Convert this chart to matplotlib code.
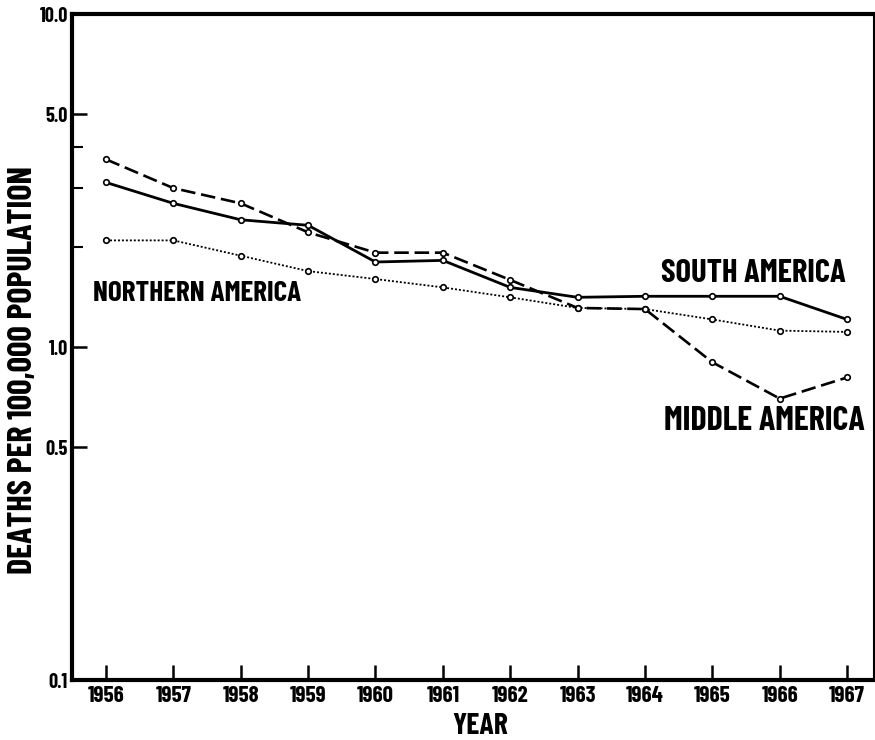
import matplotlib
matplotlib.use("Agg")
import matplotlib.pyplot as plt
from matplotlib.ticker import FixedLocator, NullFormatter

plt.rcParams['font.family'] = ['Barlow Condensed', 'Roboto Condensed', 'DejaVu Sans']
plt.rcParams['font.weight'] = 'bold'

years = [1956, 1957, 1958, 1959, 1960, 1961, 1962, 1963, 1964, 1965, 1966, 1967]
year_labels = [str(y) for y in years]
south_america = [3.12, 2.70, 2.41, 2.32, 1.80, 1.82, 1.51, 1.41, 1.42, 1.42, 1.42, 1.21]
middle_america = [3.66, 3.00, 2.70, 2.21, 1.92, 1.92, 1.59, 1.31, 1.30, 0.90, 0.70, 0.81]
northern_america = [2.09, 2.09, 1.88, 1.69, 1.60, 1.51, 1.41, 1.31, 1.30, 1.21, 1.12, 1.11]
y_major = [0.1, 0.5, 1.0, 5.0, 10.0]
y_major_labels = ['0.1', '0.5', '1.0', '5.0', '10.0']
y_minor = [2, 3, 4]

fig = plt.figure(figsize=(8.75, 7.4), dpi=100)
ax = fig.add_axes([72/875, 1-680/740, (874-72)/875, (680-14)/740])

mk = dict(marker='o', markersize=4, markerfacecolor='white', markeredgecolor='black', markeredgewidth=1.2)
ax.plot(years, south_america, color='black', lw=2.0, ls='-', **mk)
ax.plot(years, middle_america, color='black', lw=1.9, ls=(0, (5.5, 2.2)), **mk)
ax.plot(years, northern_america, color='black', lw=1.3, ls=(0, (1.1, 1.1)), **mk)

ax.set_yscale('log')
ax.set_ylim(0.1, 10.0)
ax.set_xlim(1955.495, 1967.40)

ax.yaxis.set_major_locator(FixedLocator(y_major))
ax.set_yticklabels(y_major_labels)
ax.yaxis.set_minor_locator(FixedLocator(y_minor))
ax.yaxis.set_minor_formatter(NullFormatter())
ax.set_xticks(years)
ax.set_xticklabels(year_labels)

ax.tick_params(axis='both', which='major', direction='in', length=11, width=1.8, labelsize=16.5)
ax.tick_params(axis='y', which='major', pad=3, labelsize=14.5)
ax.tick_params(axis='x', which='major', pad=4)
ax.tick_params(axis='y', which='minor', direction='in', length=8, width=1.5)

for s in ['left', 'bottom', 'top']:
    ax.spines[s].set_linewidth(3)
ax.spines['right'].set_linewidth(1.5)

ax.set_ylabel('DEATHS PER 100,000 POPULATION', fontsize=24.5, fontweight='bold')
ax.yaxis.set_label_coords(-0.043, 0.465)
ax.set_xlabel('YEAR', fontsize=21.5, fontweight='bold')
ax.xaxis.set_label_coords(0.509, -0.049)

def axfrac(px, py):
    return ((px - 72) / 802, (680 - py) / 666)

lbl = dict(fontweight='bold', transform=ax.transAxes, va='center', ha='left')
ax.text(*axfrac(93, 293), 'NORTHERN AMERICA', fontsize=21, **lbl)
ax.text(*axfrac(661, 273), 'SOUTH AMERICA', fontsize=23.5, **lbl)
ax.text(*axfrac(664, 421), 'MIDDLE AMERICA', fontsize=24.5, **lbl)

fig.savefig('out.png', dpi=100)
